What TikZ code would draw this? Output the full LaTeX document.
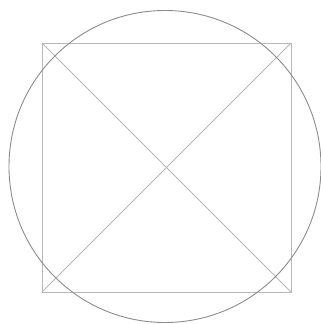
\documentclass[tikz,border=0pt]{standalone}
\begin{document}
\begin{tikzpicture}[x=1pt,y=-1pt,
  sq/.style={draw=black!28, line width=1pt},
  circ/.style={draw=black!45, line width=0.9pt}]
\useasboundingbox[fill=white] (0,0) rectangle (321,324);
\coordinate (tl) at (42,43);
\coordinate (tr) at (291,43);
\coordinate (br) at (291,292);
\coordinate (bl) at (42,292);
\draw[sq] (tl) -- (tr) -- (br) -- (bl) -- cycle;
\draw[sq] (tl) -- (br);
\draw[sq] (tr) -- (bl);
\coordinate (c) at (165,166.5);
\draw[circ] (c) circle[radius=156];
\end{tikzpicture}
\end{document}
